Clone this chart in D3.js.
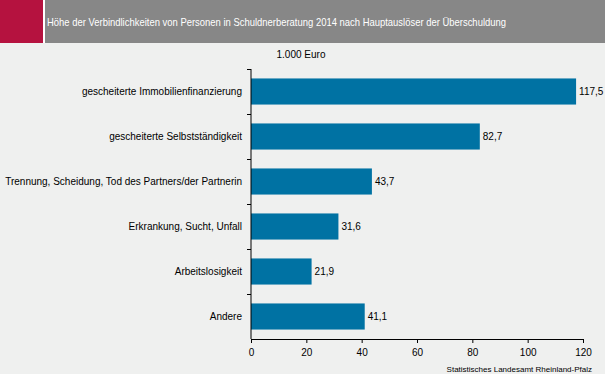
<!DOCTYPE html>
<html>
<head>
<meta charset="utf-8">
<script src="https://cdn.jsdelivr.net/npm/d3@7"></script>
<style>
  body { margin: 0; background: #eff0ef; }
  svg { display: block; font-family: "Liberation Sans", Arial, sans-serif; }
</style>
</head>
<body>
<div id="chart"></div>
<script>
// data
var categories = [
  "gescheiterte Immobilienfinanzierung",
  "gescheiterte Selbstständigkeit",
  "Trennung, Scheidung, Tod des Partners/der Partnerin",
  "Erkrankung, Sucht, Unfall",
  "Arbeitslosigkeit",
  "Andere"
];
var values = [117.5, 82.7, 43.7, 31.6, 21.9, 41.1];
var xTicks = [0, 20, 40, 60, 80, 100, 120];

var title = "Höhe der Verbindlichkeiten von Personen in Schuldnerberatung 2014 nach Hauptauslöser der Überschuldung";
var unitLabel = "1.000 Euro";
var source = "Statistisches Landesamt Rheinland-Pfalz";

var svgWidth = 605, svgHeight = 374;
var margin = { top: 69, right: 22, bottom: 35, left: 251 };
var chartWidth = svgWidth - margin.left - margin.right;
var chartHeight = svgHeight - margin.top - margin.bottom;
var fontSize = 10;

var svg = d3.select("#chart").append("svg")
  .attr("width", svgWidth)
  .attr("height", svgHeight);

svg.append("rect").attr("width", svgWidth).attr("height", svgHeight).attr("fill", "#eff0ef");

// header band
svg.append("rect").attr("x", 0).attr("y", 0).attr("width", 43).attr("height", 43).attr("fill", "#b5123f");
svg.append("rect").attr("x", 43).attr("y", 0).attr("width", 2).attr("height", 43).attr("fill", "#ffffff");
svg.append("rect").attr("x", 45).attr("y", 0).attr("width", svgWidth - 45).attr("height", 43).attr("fill", "#878787");
svg.append("text")
  .attr("x", 47).attr("y", 26)
  .attr("fill", "#ffffff")
  .attr("font-size", 11.5)
  .attr("textLength", 459)
  .attr("lengthAdjust", "spacingAndGlyphs")
  .text(title);

var chartGroup = svg.append("g")
  .attr("transform", `translate(${margin.left}, ${margin.top})`);

var xScale = d3.scaleLinear().domain([0, 120]).range([0, chartWidth]);
var yScale = d3.scaleBand().domain(categories).range([0, chartHeight]).paddingInner(0.42).paddingOuter(0.21);

// bars
chartGroup.selectAll("rect.bar")
  .data(values)
  .enter()
  .append("rect")
  .attr("class", "bar")
  .attr("x", 0)
  .attr("y", (d, i) => yScale(categories[i]))
  .attr("width", d => xScale(d))
  .attr("height", yScale.bandwidth())
  .attr("fill", "#0072a3");

// value labels
chartGroup.selectAll("text.val")
  .data(values)
  .enter()
  .append("text")
  .attr("class", "val")
  .attr("x", d => xScale(d) + 3)
  .attr("y", (d, i) => yScale(categories[i]) + yScale.bandwidth() / 2)
  .attr("dy", "0.35em")
  .attr("font-size", fontSize)
  .attr("fill", "#000")
  .text(d => d3.format(".1f")(d).replace(".", ","));

// x axis
var xAxis = d3.axisBottom(xScale).tickValues(xTicks).tickSize(4).tickSizeOuter(4);
var gx = chartGroup.append("g")
  .attr("transform", `translate(0, ${chartHeight})`)
  .call(xAxis);
gx.attr("font-family", null).attr("font-size", fontSize);
gx.selectAll("text").attr("fill", "#000").attr("dy", "0.95em");
gx.selectAll("line, path").attr("stroke", "#000");

// y axis, ticks between categories
var step = chartHeight / categories.length;
var gy = chartGroup.append("g");
gy.append("line")
  .attr("x1", 0).attr("x2", 0).attr("y1", 0).attr("y2", chartHeight)
  .attr("stroke", "#000");
gy.selectAll("line.tick")
  .data(d3.range(categories.length))
  .enter()
  .append("line")
  .attr("class", "tick")
  .attr("x1", -4).attr("x2", 0)
  .attr("y1", i => i * step + 0.5)
  .attr("y2", i => i * step + 0.5)
  .attr("stroke", "#000");
gy.selectAll("text")
  .data(categories)
  .enter()
  .append("text")
  .attr("x", -9)
  .attr("y", d => yScale(d) + yScale.bandwidth() / 2)
  .attr("dy", "0.35em")
  .attr("text-anchor", "end")
  .attr("font-size", fontSize)
  .attr("fill", "#000")
  .text(d => d);

// unit and source
svg.append("text")
  .attr("x", 301).attr("y", 58)
  .attr("text-anchor", "middle")
  .attr("font-size", fontSize)
  .text(unitLabel);
svg.append("text")
  .attr("x", 592).attr("y", 372)
  .attr("text-anchor", "end")
  .attr("font-size", 8)
  .text(source);
</script>
</body>
</html>
